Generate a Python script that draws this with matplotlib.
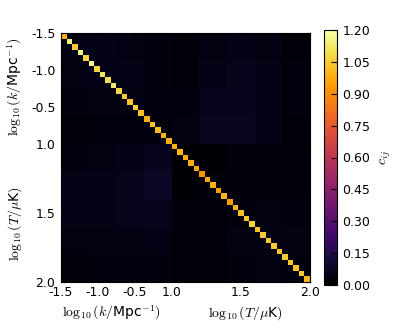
import numpy as np
import matplotlib
matplotlib.use('Agg')
import matplotlib.pyplot as plt
from matplotlib.transforms import blended_transform_factory

plt.rcParams['mathtext.fontset'] = 'cm'
plt.rcParams['font.family'] = 'DejaVu Sans'

# bins: 20 in log10 k, 25 in log10 T
nk, nT = 20, 25
k_range = (-1.5, 0.0)
T_range = (1.0, 2.0)

# diagonal of the correlation matrix
diag = [0.98, 1.15, 1.05, 1.15, 1.08, 1.18, 1.07, 1.12, 1.10, 1.13,
        1.08, 1.05, 1.04, 1.06, 1.03, 0.98, 1.03, 1.02, 1.00, 0.98,
        0.98, 1.00, 0.98, 0.98, 0.96, 0.92, 0.97, 0.99, 0.95, 1.00,
        0.95, 1.00, 1.02, 1.03, 1.07, 1.03, 1.05, 1.04, 1.05, 1.03,
        1.05, 1.04, 1.03, 1.05, 1.00]

# off-diagonal level, averaged over 5x5 patches (4 k patches, 5 T patches)
patch = [
    [0.04, 0.05, 0.04, 0.03, 0.02, 0.04, 0.05, 0.04, 0.02],
    [0.04, 0.05, 0.05, 0.03, 0.02, 0.05, 0.06, 0.05, 0.03],
    [0.03, 0.04, 0.04, 0.03, 0.03, 0.06, 0.06, 0.05, 0.03],
    [0.02, 0.03, 0.03, 0.03, 0.04, 0.07, 0.07, 0.05, 0.02],
    [0.03, 0.04, 0.05, 0.06, 0.01, 0.01, 0.02, 0.02, 0.02],
    [0.05, 0.05, 0.06, 0.08, 0.01, 0.02, 0.02, 0.02, 0.02],
    [0.05, 0.05, 0.06, 0.06, 0.02, 0.02, 0.03, 0.04, 0.03],
    [0.04, 0.04, 0.04, 0.05, 0.02, 0.02, 0.04, 0.04, 0.04],
    [0.02, 0.03, 0.03, 0.03, 0.02, 0.02, 0.03, 0.04, 0.03],
]

k_ticks = [-1.5, -1.0, -0.5]
T_ticks = [1.0, 1.5, 2.0]
tick_labels = ['-1.5', '-1.0', '-0.5', '1.0', '1.5', '2.0']
cbar_ticks = [0.0, 0.15, 0.30, 0.45, 0.60, 0.75, 0.90, 1.05, 1.20]

N = nk + nT
C = np.kron(np.array(patch), np.ones((5, 5)))
C[np.arange(N), np.arange(N)] = diag

pos = [(v - k_range[0]) / (k_range[1] - k_range[0]) * nk for v in k_ticks]
pos += [nk + (v - T_range[0]) / (T_range[1] - T_range[0]) * nT for v in T_ticks]

fig = plt.figure(figsize=(3.99, 3.30), dpi=100)
ax = fig.add_axes([61/399, 48/330, 249/399, 249/330])
im = ax.imshow(C, cmap='inferno', vmin=0, vmax=1.2, interpolation='nearest',
               extent=(0, N, N, 0), aspect='auto')
ax.set_xticks(pos)
ax.set_xticklabels(tick_labels)
ax.set_yticks(pos)
ax.set_yticklabels(tick_labels)
ax.tick_params(direction='in', length=3, labelsize=9, top=True, right=True)
ax.tick_params(axis='x', pad=3)
ax.tick_params(axis='y', pad=4)

trx = blended_transform_factory(ax.transData, fig.transFigure)
ax.text(9.2, 1 - 313/330, r'$\log_{10}(k/$Mpc$^{-1})$', transform=trx,
        ha='center', va='center', fontsize=10)
ax.text(33.3, 1 - 313/330, r'$\log_{10}(T/\mu$K$)$', transform=trx,
        ha='center', va='center', fontsize=10)
tr_y = blended_transform_factory(fig.transFigure, ax.transData)
ax.text(15/399, 9.6, r'$\log_{10}(k/$Mpc$^{-1})$', transform=tr_y,
        ha='center', va='center', rotation=90, fontsize=10)
ax.text(15/399, 34.5, r'$\log_{10}(T/\mu$K$)$', transform=tr_y,
        ha='center', va='center', rotation=90, fontsize=10)

cax = fig.add_axes([324/399, 45/330, 13/399, 255/330])
cb = fig.colorbar(im, cax=cax, ticks=cbar_ticks)
cb.ax.set_yticklabels(['%.2f' % t for t in cbar_ticks])
cb.ax.tick_params(direction='in', length=4, labelsize=9, pad=4)
cb.set_label(r'$c_{ij}$', fontsize=10, labelpad=6)

fig.savefig('out.png', dpi=100)
